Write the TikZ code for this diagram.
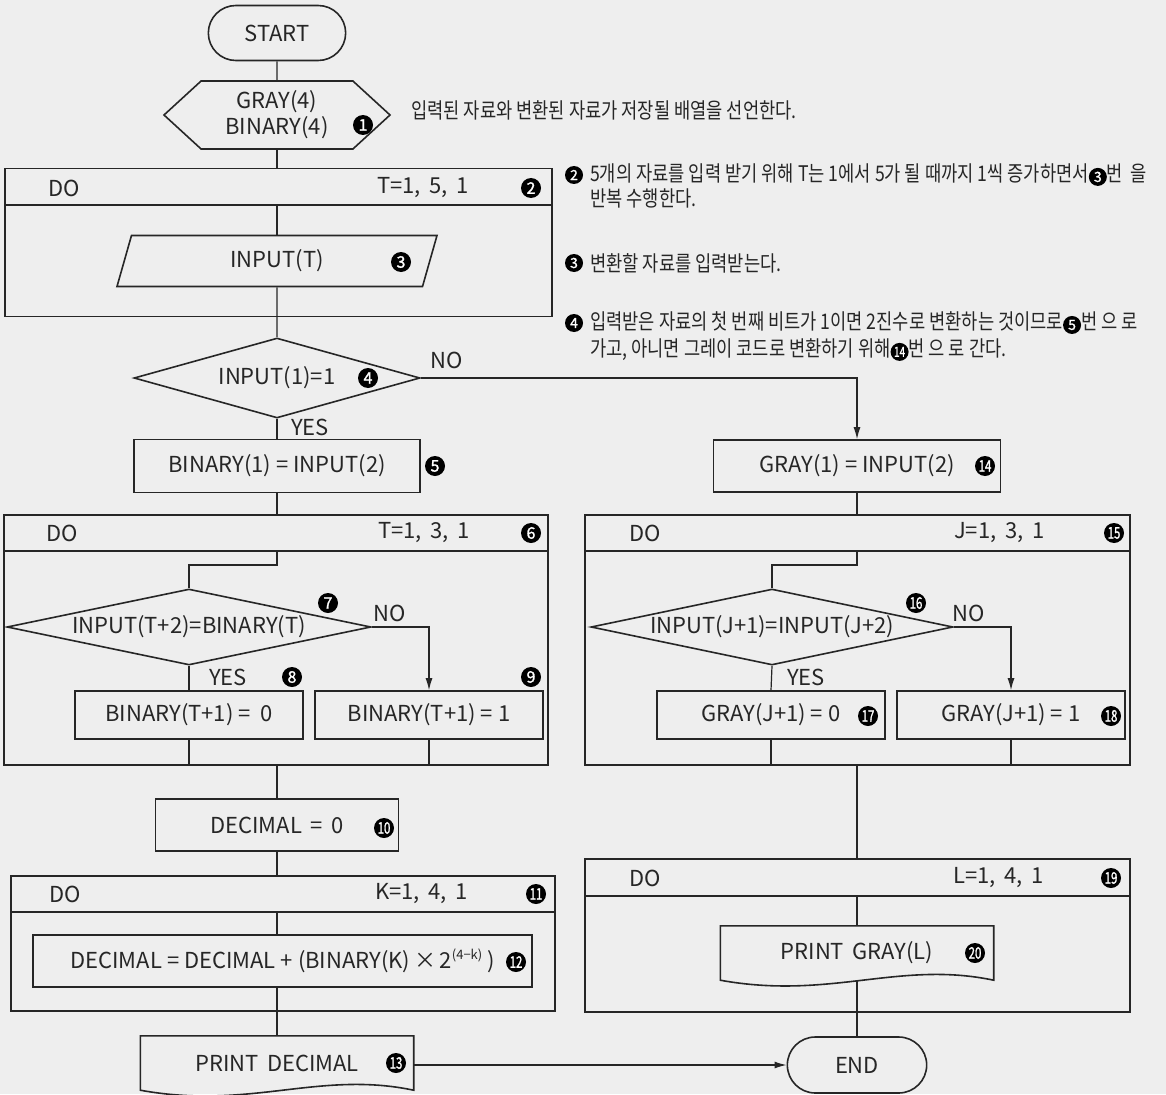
\documentclass[tikz,border=0pt]{standalone}
\usepackage{fontspec}
\usepackage{graphicx}
\setmainfont{Noto Sans CJK KR}
\newfontfamily\notefont[FakeStretch=0.82]{Noto Sans CJK KR}
\newfontfamily\numfont[FakeBold=1.5]{Noto Sans CJK KR}
\usetikzlibrary{shapes.geometric, shapes.misc, shapes.symbols, arrows.meta}

\definecolor{bgcol}{RGB}{238,238,238}
\definecolor{ink}{RGB}{38,38,38}

\tikzset{
  frame/.style={draw=ink, line width=1.6pt},
  box/.style={frame, rectangle, inner sep=0pt},
  term/.style={frame, rounded rectangle, minimum width=144pt, minimum height=55pt},
  prep/.style={frame, signal, signal to=west and east, signal pointer angle=85,
    minimum width=226pt, minimum height=68pt, inner sep=0pt, align=center},
  io/.style={frame, trapezium, trapezium left angle=57, trapezium right angle=123,
    trapezium stretches body, minimum width=320pt, minimum height=51pt, inner sep=0pt},
  cond/.style={frame, diamond, aspect=5, inner sep=0pt, text height=15pt, text depth=3pt},
  doc/.style={rectangle, inner sep=0pt, minimum width=273pt, minimum height=54pt},
  flow/.style={draw=ink, line width=1.2pt},
  arr/.style={flow, -{Latex[length=12pt, width=7pt]}},
  lbl/.style={anchor=west, inner sep=0pt},
  num/.style={circle, fill=black, text=white, inner sep=0pt, minimum size=20pt,
    font=\numfont\fontsize{16}{16}\selectfont},
  numsm/.style={num, minimum size=18pt, font=\numfont\fontsize{14}{14}\selectfont},
  note/.style={anchor=west, inner sep=0pt, font=\notefont\fontsize{21.5}{25}\selectfont},
}
\newcommand{\cnum}[1]{\tikz[baseline=(cn.base)]\node[numsm] (cn) {#1};}
\newcommand{\wide}[1]{\scalebox{0.72}[1]{#1}}

\begin{document}
\begin{tikzpicture}[x=1pt, y=-1pt, font=\fontsize{22}{26}\selectfont, text=ink]

\useasboundingbox (0,0) rectangle (1166,1094);
\fill[bgcol] (0,0) rectangle (1166,1094);

% left column
\node[term] (start) at (277,33) {START};
\node[prep] (prep) at (277,115) {GRAY(4)\\BINARY(4)};

\node[box, minimum width=547pt, minimum height=148pt] (do1) at (278.5,242.5) {};
\coordinate (do1h) at (0,205);
\draw[frame] (do1.west |- do1h) -- (do1.east |- do1h);
\node[lbl] (do1a) at (48,188) {DO};
\node[lbl] (do1b) at (377,188) {T=1,\, 5,\, 1};
\node[io] (in3) at (277,261) {INPUT(T)};

\node[cond, minimum width=286pt, minimum height=80pt] (d4) at (277,378) {INPUT(1)=1};
\node[box, minimum width=286pt, minimum height=53pt] (b5) at (277,466) {BINARY(1) = INPUT(2)};

\node[box, minimum width=544pt, minimum height=250pt] (do6) at (276,640) {};
\coordinate (do6h) at (0,551);
\draw[frame] (do6.west |- do6h) -- (do6.east |- do6h);
\node[lbl] (do6a) at (46,533) {DO};
\node[lbl] (do6b) at (378,533) {T=1,\, 3,\, 1};
\node[cond, minimum width=364pt, minimum height=76pt] (d7) at (189,627) {INPUT(T+2)=BINARY(T)};
\node[box, minimum width=228pt, minimum height=48pt] (b8) at (189,715) {BINARY(T+1) = \ 0};
\node[box, minimum width=228pt, minimum height=48pt] (b9) at (429,715) {BINARY(T+1) = 1};

\node[box, minimum width=243pt, minimum height=52pt] (b10) at (277,825) {DECIMAL \,=\, 0};

\node[box, minimum width=544pt, minimum height=135pt] (do11) at (283,943.5) {};
\coordinate (do11h) at (0,912);
\draw[frame] (do11.west |- do11h) -- (do11.east |- do11h);
\node[lbl] (do11a) at (49,894) {DO};
\node[lbl] (do11b) at (375,894) {K=1,\, 4,\, 1};
\node[box, minimum width=499pt, minimum height=52pt] (b12) at (282.5,961)
  {DECIMAL = DECIMAL + (BINARY(K)\,×\,2\raisebox{9pt}{\fontsize{13}{13}\selectfont(4−k)}\ )};

\node[doc] (pr13) at (277,1063) {PRINT\, DECIMAL};
\draw[frame] (pr13.south east) .. controls +(-95,-20) and +(110,20) .. (pr13.south west)
  -- (pr13.north west) -- (pr13.north east) -- cycle;

% right column
\node[box, minimum width=287pt, minimum height=52pt] (b14) at (857,466) {GRAY(1) = INPUT(2)};

\node[box, minimum width=545pt, minimum height=250pt] (do15) at (857.5,640) {};
\coordinate (do15h) at (0,551);
\draw[frame] (do15.west |- do15h) -- (do15.east |- do15h);
\node[lbl] (do15a) at (629,533) {DO};
\node[lbl] (do15b) at (954,533) {J=1,\, 3,\, 1};
\node[cond, minimum width=362pt, minimum height=76pt] (d16) at (772,627) {INPUT(J+1)=INPUT(J+2)};
\node[box, minimum width=228pt, minimum height=48pt] (b17) at (771,715) {GRAY(J+1) = 0};
\node[box, minimum width=228pt, minimum height=48pt] (b18) at (1011,715) {GRAY(J+1) = 1};

\node[box, minimum width=545pt, minimum height=153pt] (do19) at (857.5,935.5) {};
\coordinate (do19h) at (0,896);
\draw[frame] (do19.west |- do19h) -- (do19.east |- do19h);
\node[lbl] (do19a) at (629,878) {DO};
\node[lbl] (do19b) at (953,878) {L=1,\, 4,\, 1};
\node[doc] (pr20) at (857,953) {PRINT\, GRAY(L)};
\draw[frame] (pr20.south east) .. controls +(-95,-20) and +(110,20) .. (pr20.south west)
  -- (pr20.north west) -- (pr20.north east) -- cycle;

\node[term, minimum width=146pt, minimum height=56pt] (end) at (857,1065) {END};

% connectors
\draw[flow] (start) -- (prep);
\draw[flow] (prep.south) -- (prep.south |- do1.north);
\draw[flow] (in3.north |- do1h) -- (in3.north);
\draw[flow] (in3.south) -- (d4.north);
\draw[flow] (d4.south) -- (b5.north);
\draw[arr] (d4.east) -| (b14.north);
\draw[flow] (b5.south) -- (b5.south |- do6.north);
\draw[flow] (b5.south |- do6h) -- ++(0,14) -| (d7.north);
\draw[flow] (d7.south) -- (b8.north);
\draw[arr] (d7.east) -| (b9.north);
\draw[flow] (b8.south) -- (b8.south |- do6.south);
\draw[flow] (b9.south) -- (b9.south |- do6.south);
\draw[flow] (b10.north |- do6.south) -- (b10.north);
\draw[flow] (b10.south) -- (b10.south |- do11.north);
\draw[flow] (b10.south |- do11h) -- (b10.south |- b12.north);
\draw[flow] (b10.south |- b12.south) -- (pr13.north);
\draw[arr] (pr13.east |- end.west) -- (end.west);

\draw[flow] (b14.south) -- (b14.south |- do15.north);
\draw[flow] (b14.south |- do15h) -- ++(0,14) -| (d16.north);
\draw[flow] (d16.south) -- (b17.north);
\draw[arr] (d16.east) -| (b18.north);
\draw[flow] (b17.south) -- (b17.south |- do15.south);
\draw[flow] (b18.south) -- (b18.south |- do15.south);
\draw[flow] (b14.south |- do15.south) -- (b14.south |- do19.north);
\draw[flow] (b14.south |- do19h) -- (pr20.north);
\draw[flow] (pr20.south) -- (end.north);

% branch labels
\node[lbl] (no4) at (430,360) {NO};
\node[lbl] (yes4) at (291,427) {YES};
\node[lbl] (no7) at (373,613) {NO};
\node[lbl] (yes7) at (209,677) {YES};
\node[lbl] (no16) at (952,613) {NO};
\node[lbl] (yes16) at (787,677) {YES};

% step numbers
\foreach \n/\x/\y in {1/363/125, 2/531/188, 3/401/262, 4/368/378, 5/435/466,
  6/531/533, 7/328/603, 8/292/677, 9/531/677}
  \node[num] (n\n) at (\x,\y) {\n};
\foreach \n/\x/\y in {10/384/828, 11/536/894, 12/516/962, 13/396/1063, 14/985/466,
  15/1114/533, 16/916/603, 17/868/716, 18/1111/716, 19/1111/878, 20/975/953}
  \node[num] (n\n) at (\x,\y) {\wide{\n}};

% notes
\node[note] (t1) at (411,110) {입력된 자료와 변환된 자료가 저장될 배열을 선언한다.};
\node[numsm] (m2) at (574,175) {2};
\node[note] (t2a) at (590,175) {5개의 자료를 입력 받기 위해 T는 1에서 5가 될 때까지 1씩 증가하면서\cnum{3}번 \ 을};
\node[note] (t2b) at (590,198) {반복 수행한다.};
\node[numsm] (m3) at (574,263) {3};
\node[note] (t3) at (590,263) {변환할 자료를 입력받는다.};
\node[numsm] (m4) at (574,323) {4};
\node[note] (t4a) at (590,323) {입력받은 자료의 첫 번째 비트가 1이면 2진수로 변환하는 것이므로\cnum{5}번 으 로};
\node[note] (t4b) at (590,350) {가고, 아니면 그레이 코드로 변환하기 위해\cnum{\wide{14}}번 으 로 간다.};

\end{tikzpicture}
\end{document}
